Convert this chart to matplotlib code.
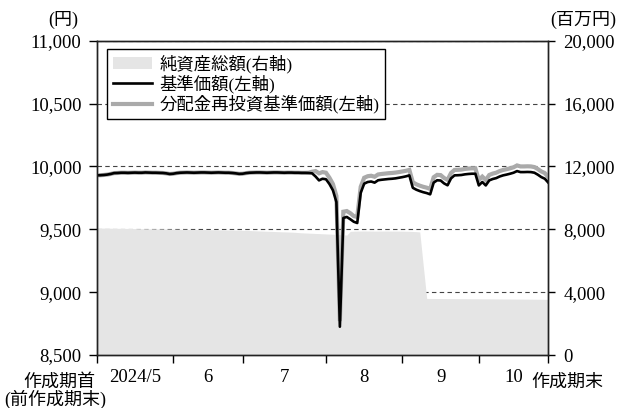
import numpy as np
import matplotlib
matplotlib.use("Agg")
from matplotlib import pyplot as plt
from matplotlib.patches import Patch
from matplotlib.lines import Line2D
from matplotlib.ticker import FuncFormatter, FixedLocator

plt.rcParams['font.family'] = ['Liberation Serif', 'Noto Sans CJK JP']

# business-day index 0..130 over the period
nav = [9929, 9930, 9932, 9935, 9940, 9947, 9948, 9950, 9950, 9949,
       9950, 9951, 9950, 9950, 9952, 9951, 9950, 9950, 9949, 9948,
       9945, 9940, 9942, 9947, 9950, 9951, 9952, 9951, 9950, 9951,
       9952, 9952, 9951, 9950, 9951, 9952, 9951, 9950, 9950, 9948,
       9945, 9941, 9942, 9947, 9950, 9951, 9952, 9952, 9951, 9950,
       9951, 9952, 9952, 9951, 9950, 9951, 9951, 9950, 9950, 9949,
       9949, 9948, 9945, 9920, 9889, 9902, 9898, 9860, 9810, 9717,
       8725, 9590, 9598, 9580, 9560, 9550, 9790, 9863, 9876, 9880,
       9871, 9890, 9894, 9897, 9900, 9902, 9905, 9910, 9915, 9921,
       9929, 9830, 9815, 9804, 9795, 9788, 9778, 9871, 9890, 9888,
       9865, 9850, 9905, 9929, 9930, 9932, 9937, 9940, 9942, 9942,
       9849, 9876, 9849, 9889, 9900, 9907, 9920, 9929, 9935, 9942,
       9950, 9963, 9955, 9955, 9956, 9955, 9950, 9934, 9915, 9902,
       9871]

nav_reinv = [9929, 9930, 9932, 9935, 9940, 9947, 9948, 9950, 9950, 9949,
             9950, 9951, 9950, 9950, 9952, 9951, 9950, 9950, 9949, 9948,
             9945, 9940, 9942, 9947, 9950, 9951, 9952, 9951, 9950, 9951,
             9952, 9952, 9951, 9950, 9951, 9952, 9951, 9950, 9950, 9948,
             9945, 9941, 9942, 9947, 9950, 9951, 9952, 9952, 9951, 9950,
             9951, 9952, 9952, 9951, 9950, 9951, 9951, 9950, 9950, 9949,
             9949, 9950, 9958, 9963, 9945, 9955, 9950, 9910, 9860, 9765,
             8770, 9640, 9645, 9628, 9605, 9598, 9838, 9910, 9922, 9926,
             9918, 9936, 9940, 9943, 9946, 9948, 9951, 9955, 9960, 9965,
             9972, 9874, 9858, 9847, 9838, 9831, 9821, 9914, 9933, 9931,
             9908, 9893, 9948, 9972, 9973, 9975, 9980, 9983, 9985, 9985,
             9892, 9919, 9892, 9932, 9943, 9950, 9963, 9972, 9978, 9985,
             9993, 10008, 10000, 10000, 10001, 10000, 9995, 9979, 9960, 9947,
             9915]

net_assets = [8080, 8080, 8075, 8072, 8070, 8066, 8062, 8060, 8056, 8052,
              8050, 8046, 8042, 8040, 8036, 8032, 8030, 8026, 8022, 8020,
              8016, 8012, 8010, 8006, 8002, 8000, 7996, 7992, 7990, 7986,
              7983, 7980, 7976, 7973, 7970, 7966, 7963, 7960, 7956, 7953,
              7950, 7945, 7938, 7930, 7920, 7910, 7900, 7892, 7884, 7876,
              7868, 7860, 7850, 7842, 7834, 7826, 7818, 7808, 7790, 7775,
              7765, 7755, 7745, 7735, 7725, 7715, 7705, 7695, 7685, 7675,
              7665, 7650, 7630, 7870, 7880, 7885, 7890, 7892, 7890, 7888,
              7885, 7886, 7888, 7890, 7888, 7886, 7885, 7884, 7880, 7876,
              7870, 7860, 7850, 7830, 5700, 3600, 3598, 3596, 3595, 3594,
              3592, 3590, 3590, 3588, 3586, 3585, 3584, 3582, 3580, 3580,
              3578, 3576, 3575, 3574, 3572, 3570, 3568, 3566, 3565, 3564,
              3562, 3560, 3558, 3556, 3555, 3552, 3550, 3548, 3546, 3543,
              3540]

month_edges = [0, 22, 42, 66, 88, 110, 130]
month_labels = ['2024/5', '6', '7', '8', '9', '10']

days = np.arange(len(nav))

fig = plt.figure(figsize=(6.18, 4.08), dpi=100)
ax1 = fig.add_axes([0.1565, 0.1299, 0.7307, 0.7703])
ax2 = ax1.twinx()
ax1.set_zorder(ax2.get_zorder() + 1)
ax1.patch.set_visible(False)

# net assets on the right axis, drawn over the grid
ax2.set_axisbelow(True)
ax2.fill_between(days, 0, net_assets, color='#e5e5e5', lw=0)
ax2.set_ylim(0, 20000)
ax2.set_yticks(np.arange(0, 20001, 4000))
ax2.yaxis.grid(True, color='#444444', linestyle=(0, (4, 3)), linewidth=0.8)
ax2.yaxis.set_major_formatter(FuncFormatter(lambda v, p: f'{int(v):,}'))
ax2.tick_params(axis='y', direction='out', length=5, width=1, pad=6, labelsize=13.5)

ax1.plot(days, nav_reinv, color='#aaaaaa', lw=3.0, solid_joinstyle='miter')
ax1.plot(days, nav, color='black', lw=1.9)
ax1.set_xlim(0, 130)
ax1.set_ylim(8500, 11000)
ax1.set_yticks(np.arange(8500, 11001, 500))
ax1.yaxis.set_major_formatter(FuncFormatter(lambda v, p: f'{int(v):,}'))
ax1.tick_params(axis='y', direction='out', length=6, width=1, pad=5, labelsize=13.5)

ax1.xaxis.set_major_locator(FixedLocator(month_edges))
ax1.set_xticklabels([''] * len(month_edges))
mids = [(a + b) / 2 for a, b in zip(month_edges[:-1], month_edges[1:])]
ax1.xaxis.set_minor_locator(FixedLocator(mids))
ax1.set_xticklabels(month_labels, minor=True)
ax1.tick_params(axis='x', which='major', direction='out', length=6, width=1)
ax1.tick_params(axis='x', which='minor', length=0, pad=10, labelsize=13.5)

for ax in (ax1, ax2):
    for s in ax.spines.values():
        s.set_linewidth(1.0)
        s.set_color('#222222')

handles = [Patch(facecolor='#e5e5e5', edgecolor='none'),
           Line2D([], [], color='black', lw=1.9),
           Line2D([], [], color='#aaaaaa', lw=3.0)]
labels = ['純資産総額(右軸)', '基準価額(左軸)', '分配金再投資基準価額(左軸)']
leg = ax1.legend(handles, labels, loc='upper left', bbox_to_anchor=(0.0235, 0.973),
                 borderaxespad=0, fontsize=12.5, frameon=True, fancybox=False,
                 framealpha=1, edgecolor='black', handlelength=2.3, handleheight=0.75,
                 labelspacing=0.1, borderpad=0.3, handletextpad=0.4)
leg.get_frame().set_linewidth(1.0)

fig.text(63 / 618, 1 - 20 / 408, '(円)', ha='center', va='center', fontsize=13)
fig.text(583 / 618, 1 - 20 / 408, '(百万円)', ha='center', va='center', fontsize=13)
fig.text(95 / 618, 1 - 382 / 408, '作成期首', ha='right', va='center', fontsize=13)
fig.text(4 / 618, 1 - 399 / 408, '(前作成期末)', ha='left', va='center', fontsize=13)
fig.text(531 / 618, 1 - 382 / 408, '作成期末', ha='left', va='center', fontsize=13)

fig.savefig('out.png', dpi=100)
